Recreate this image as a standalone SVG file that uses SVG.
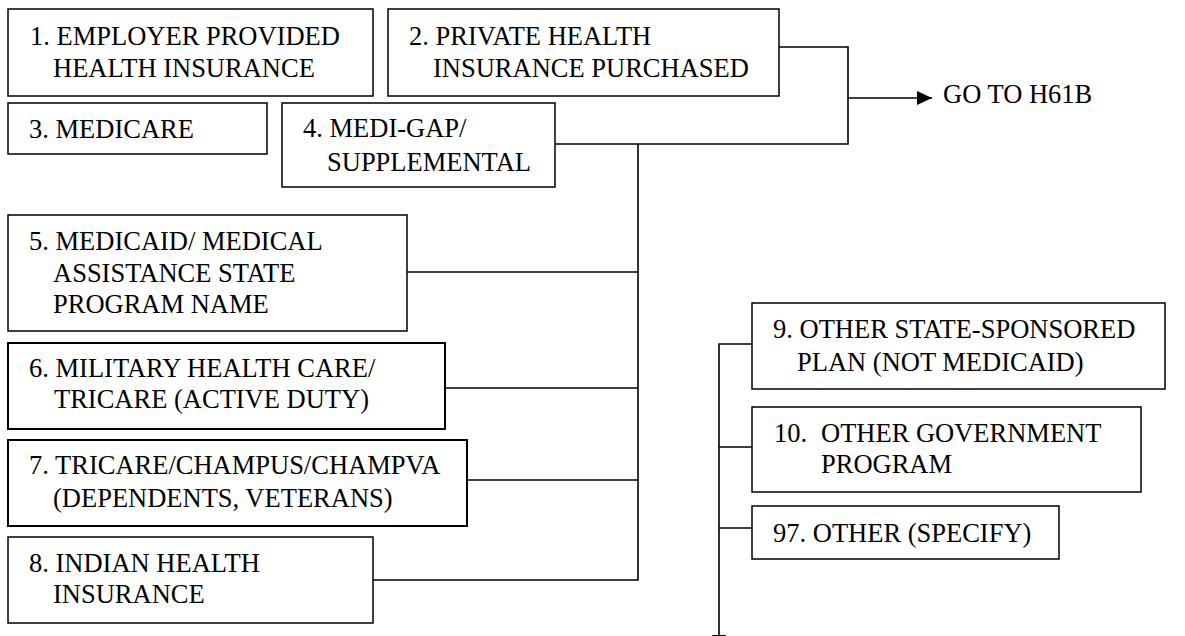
<svg xmlns="http://www.w3.org/2000/svg" width="1185" height="636" viewBox="0 0 1185 636">
<style>
text{font-family:'Liberation Serif','Times New Roman',serif;font-size:26.5px;fill:#000}
.box{fill:#fff;stroke:#000;stroke-width:1.5}
.thick{stroke-width:2}
.ln{fill:none;stroke:#000;stroke-width:1.6}
</style>
<defs>
<marker id="ah" markerWidth="15" markerHeight="14" refX="15" refY="7" orient="auto" markerUnits="userSpaceOnUse">
<path d="M0,0 L15,7 L0,14 Z" fill="#000"/>
</marker>
</defs>
<rect width="1185" height="636" fill="#fff"/>
<g id="connectors">
<path class="ln" d="M779,47 H848 V144 H555"/>
<path class="ln" d="M848,98 H932" marker-end="url(#ah)"/>
<path class="ln" d="M638,144 V580 H373"/>
<path class="ln" d="M407,272 H638"/>
<path class="ln" d="M445,388 H638"/>
<path class="ln" d="M467,480 H638"/>
<path class="ln" d="M752,344 H719 V650" marker-end="url(#ah)"/>
<path class="ln" d="M719,447 H752"/>
<path class="ln" d="M719,528 H752"/>
</g>
<g id="n1"><rect class="box" x="8" y="9" width="365" height="87"/>
<text x="30" y="45">1. EMPLOYER PROVIDED</text>
<text x="53" y="77">HEALTH INSURANCE</text></g>
<g id="n2"><rect class="box" x="388" y="9" width="391" height="87"/>
<text x="409" y="45">2. PRIVATE HEALTH</text>
<text x="433" y="77">INSURANCE PURCHASED</text></g>
<g id="n3"><rect class="box" x="8" y="103" width="259" height="51"/>
<text x="29" y="138">3. MEDICARE</text></g>
<g id="n4"><rect class="box" x="282" y="103" width="273" height="84"/>
<text x="303" y="137">4. MEDI-GAP/</text>
<text x="327" y="171">SUPPLEMENTAL</text></g>
<g id="n5"><rect class="box" x="8" y="215" width="399" height="116"/>
<text x="29" y="250">5. MEDICAID/ MEDICAL</text>
<text x="53" y="282">ASSISTANCE STATE</text>
<text x="53" y="313">PROGRAM NAME</text></g>
<g id="n6"><rect class="box thick" x="8" y="343" width="437" height="86"/>
<text x="29" y="377">6. MILITARY HEALTH CARE/</text>
<text x="54" y="408">TRICARE (ACTIVE DUTY)</text></g>
<g id="n7"><rect class="box thick" x="8" y="440" width="459" height="86"/>
<text x="29" y="474">7. TRICARE/CHAMPUS/CHAMPVA</text>
<text x="53" y="507">(DEPENDENTS, VETERANS)</text></g>
<g id="n8"><rect class="box" x="8" y="537" width="365" height="86"/>
<text x="29" y="572">8. INDIAN HEALTH</text>
<text x="53" y="603">INSURANCE</text></g>
<g id="n9"><rect class="box" x="752" y="303" width="413" height="86"/>
<text x="773" y="338">9. OTHER STATE-SPONSORED</text>
<text x="797" y="371">PLAN (NOT MEDICAID)</text></g>
<g id="n10"><rect class="box" x="752" y="407" width="389" height="85"/>
<text x="774" y="442">10.</text>
<text x="821" y="442">OTHER GOVERNMENT</text>
<text x="821" y="473">PROGRAM</text></g>
<g id="n97"><rect class="box" x="752" y="506" width="307" height="53"/>
<text x="773" y="542">97. OTHER (SPECIFY)</text></g>
<g id="goto"><text x="943" y="103">GO TO H61B</text></g>
</svg>
